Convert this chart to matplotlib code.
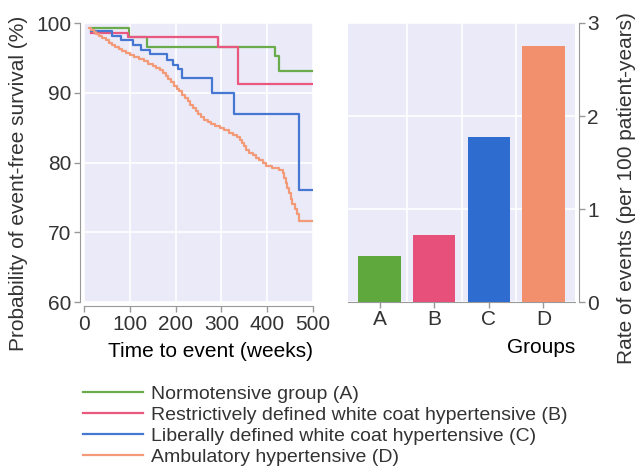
import numpy as np
import matplotlib
matplotlib.use('Agg')
import matplotlib.pyplot as plt

FS = 15
plt.rcParams['font.family'] = ['Liberation Sans', 'DejaVu Sans']
plt.rcParams['font.size'] = FS
plt.rcParams['text.color'] = '#333333'

# Kaplan-Meier step data: (weeks, event-free survival %)
normo_t = [15, 98, 138, 417, 425, 500]
normo_s = [99.3, 97.95, 96.5, 95.2, 93.1, 93.1]

restr_t = [15, 95, 292, 336, 500]
restr_s = [98.5, 97.95, 96.5, 91.2, 91.2]

liber_t = [15, 62, 80, 107, 124, 145, 182, 194, 205, 214, 280, 327, 470, 500]
liber_s = [98.9, 98.2, 97.5, 96.8, 96.1, 95.6, 94.7, 94.0, 93.4, 92.1, 90.0, 86.9, 76.0, 76.0]

ambul_t = [12, 16, 21, 26, 33, 40, 47, 54, 61, 68, 76, 84, 92, 100, 110, 120,
           130, 140, 150, 158, 165, 172, 178, 184, 190, 196, 202, 208, 214, 220,
           226, 232, 238, 244, 250, 256, 263, 270, 278, 287, 296, 306, 316, 325,
           333, 340, 345, 350, 354, 360, 368, 376, 383, 390, 398, 410, 425, 435,
           437, 440, 443, 447, 451, 455, 461, 466, 469, 500]
ambul_s = [99.3, 99.0, 98.7, 98.4, 98.1, 97.8, 97.5, 97.2, 96.9, 96.6, 96.3, 96.0,
           95.7, 95.4, 95.1, 94.8, 94.5, 94.1, 93.8, 93.5, 93.2, 92.8, 92.4, 91.9,
           91.5, 91.0, 90.6, 90.2, 89.7, 89.2, 88.8, 88.3, 87.8, 87.4, 86.9, 86.5,
           86.1, 85.8, 85.5, 85.2, 84.9, 84.6, 84.3, 84.0, 83.6, 83.2, 82.8, 82.3,
           81.8, 81.4, 81.1, 80.7, 80.3, 79.9, 79.5, 79.2, 78.9, 78.5, 77.8, 77.0,
           76.4, 75.6, 74.7, 74.0, 73.3, 72.6, 71.6, 71.6]

groups = ['A', 'B', 'C', 'D']
event_rates = [0.5, 0.72, 1.77, 2.75]

labels = ['Normotensive group (A)',
          'Restrictively defined white coat hypertensive (B)',
          'Liberally defined white coat hypertensive (C)',
          'Ambulatory hypertensive (D)']
line_colors = ['#6aac4c', '#e8587f', '#4577d3', '#f39a78']
bar_colors = ['#5fa83e', '#e6507a', '#2f6ccf', '#f28f6c']

panel_bg = '#eaeaf8'
spine_col = '#999999'

fig = plt.figure(figsize=(6.38, 4.73), dpi=100)
W, H = 638, 473

def place(x0, y0, x1, y1):
    return fig.add_axes([x0 / W, 1 - y1 / H, (x1 - x0) / W, (y1 - y0) / H])

def style(ax):
    ax.set_facecolor(panel_bg)
    ax.grid(True, color='white', linewidth=1.2)
    ax.set_axisbelow(True)
    for s in ax.spines.values():
        s.set_color(spine_col)
    ax.tick_params(length=4, width=1, colors=spine_col, labelcolor='#333333',
                   labelsize=FS, pad=2)

# survival curves
ax1 = place(84, 23, 313, 302)
style(ax1)
ax1.spines['top'].set_visible(False)
ax1.spines['right'].set_visible(False)
ax1.spines['left'].set_position(('outward', 3))
ax1.spines['bottom'].set_position(('outward', 3))

lines = []
for t, s, c in zip([normo_t, restr_t, liber_t, ambul_t],
                   [normo_s, restr_s, liber_s, ambul_s], line_colors):
    ln, = ax1.step(t, s, where='post', color=c, linewidth=1.6)
    lines.append(ln)

ax1.set_xlim(0, 500)
ax1.set_ylim(60, 100)
ax1.set_xticks([0, 100, 200, 300, 400, 500])
ax1.set_yticks([60, 70, 80, 90, 100])
ax1.set_xlabel('Time to event (weeks)', loc='right', labelpad=6)

# event rates
ax2 = place(348, 23, 575, 302)
style(ax2)
ax2.bar(np.arange(len(groups)), event_rates, width=0.78, color=bar_colors,
        edgecolor='none', zorder=3)
ax2.spines['top'].set_visible(False)
ax2.spines['left'].set_visible(False)
ax2.spines['right'].set_position(('outward', 3))
ax2.yaxis.tick_right()
ax2.set_xlim(-0.58, 3.58)
ax2.set_ylim(0, 3)
ax2.set_yticks([0, 1, 2, 3])
ax2.set_xticks(np.arange(len(groups)))
ax2.set_xticklabels(groups)
ax2.set_xticks([0.5, 1.5, 2.5], minor=True)
ax2.grid(False)
ax2.grid(True, which='minor', axis='x', color='white', linewidth=1.2)
ax2.grid(True, which='major', axis='y', color='white', linewidth=1.2)
ax2.tick_params(which='minor', length=0)
ax2.set_xlabel('Groups', loc='right', labelpad=6)

fig.text(19 / W, 1 - 183 / H, 'Probability of event-free survival (%)',
         rotation=90, ha='center', va='center', fontsize=FS)
fig.text(626 / W, 1 - 188 / H, 'Rate of events (per 100 patient-years)',
         rotation=90, ha='center', va='center', fontsize=FS)

fig.legend(lines, labels, loc='upper left', bbox_to_anchor=(83 / W, 1 - 385 / H),
           frameon=False, fontsize=14, handlelength=3.1, handletextpad=0.4,
           labelspacing=0.18, borderaxespad=0, borderpad=0)

fig.savefig('out.png', dpi=100)
